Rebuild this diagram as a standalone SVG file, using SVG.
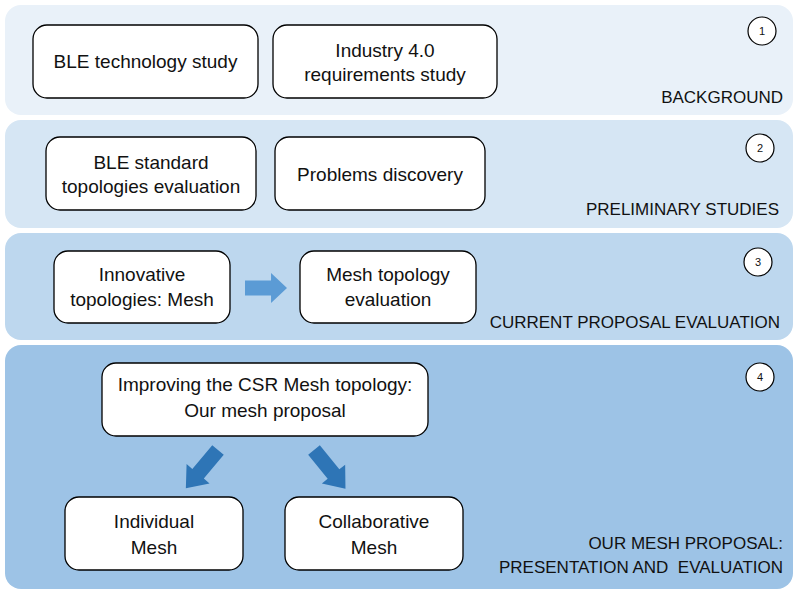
<svg xmlns="http://www.w3.org/2000/svg" width="799" height="594" viewBox="0 0 799 594">
<defs>
<style>
.node rect{fill:#fff;stroke:#000;stroke-width:1.3}
.t{font-family:"Liberation Sans",Arial,sans-serif;font-size:19px;fill:#111;text-anchor:middle}
.lbl{font-family:"Liberation Sans",Arial,sans-serif;font-size:17px;fill:#111;text-anchor:end}
.num circle{fill:#fff;stroke:#000;stroke-width:1.2}
.num text{font-family:"Liberation Sans",Arial,sans-serif;font-size:11px;fill:#111;text-anchor:middle}
</style>
<path id="arr" d="M0,-7.5 L31,-7.5 L31,-15 L50,0 L31,15 L31,7.5 L0,7.5 Z"/>
</defs>
<rect width="799" height="594" fill="#fff"/>
<g id="bands">
<rect x="5" y="5" width="788" height="110" rx="16" fill="#E9F1F9"/>
<rect x="5" y="120" width="788" height="108" rx="16" fill="#D6E6F4"/>
<rect x="5" y="233" width="788" height="107" rx="16" fill="#BDD7EE"/>
<rect x="5" y="345" width="788" height="244" rx="16" fill="#9DC3E6"/>
</g>
<g id="labels">
<text class="lbl" x="783" y="103">BACKGROUND</text>
<text class="lbl" x="779" y="215">PRELIMINARY STUDIES</text>
<text class="lbl" x="780" y="328">CURRENT PROPOSAL EVALUATION</text>
<text class="lbl" x="783" y="549">OUR MESH PROPOSAL:</text>
<text class="lbl" x="783" y="573" xml:space="preserve">PRESENTATION AND  EVALUATION</text>
</g>
<g id="n1" class="num"><circle cx="762" cy="31" r="14"/><text x="762" y="35">1</text></g>
<g id="n2" class="num"><circle cx="760" cy="148" r="14"/><text x="760" y="152">2</text></g>
<g id="n3" class="num"><circle cx="758" cy="262" r="14"/><text x="758" y="266">3</text></g>
<g id="n4" class="num"><circle cx="760" cy="377" r="14"/><text x="760" y="381">4</text></g>
<g id="ble" class="node"><rect x="33" y="25" width="225" height="73" rx="14"/><text class="t" x="145.5" y="68">BLE technology study</text></g>
<g id="industry" class="node"><rect x="273" y="25" width="224" height="73" rx="14"/><text class="t" x="385" y="57">Industry 4.0</text><text class="t" x="385" y="81">requirements study</text></g>
<g id="standard" class="node"><rect x="46" y="137" width="210" height="73" rx="14"/><text class="t" x="151" y="169">BLE standard</text><text class="t" x="151" y="193">topologies evaluation</text></g>
<g id="problems" class="node"><rect x="275" y="137" width="210" height="73" rx="14"/><text class="t" x="380" y="181">Problems discovery</text></g>
<g id="innovative" class="node"><rect x="54" y="251" width="176" height="72" rx="14"/><text class="t" x="142" y="281">Innovative</text><text class="t" x="142" y="306">topologies: Mesh</text></g>
<g id="meshEval" class="node"><rect x="300" y="251" width="176" height="72" rx="14"/><text class="t" x="388" y="281">Mesh topology</text><text class="t" x="388" y="306">evaluation</text></g>
<g id="improving" class="node"><rect x="102" y="363" width="326" height="73" rx="14"/><text class="t" x="265" y="391">Improving the CSR Mesh topology:</text><text class="t" x="265" y="417">Our mesh proposal</text></g>
<g id="individual" class="node"><rect x="65" y="497" width="178" height="73" rx="14"/><text class="t" x="154" y="528">Individual</text><text class="t" x="154" y="554">Mesh</text></g>
<g id="collab" class="node"><rect x="285" y="497" width="178" height="73" rx="14"/><text class="t" x="374" y="528">Collaborative</text><text class="t" x="374" y="554">Mesh</text></g>
<g id="connectors">
<use href="#arr" transform="translate(245,288) scale(0.84,1)" fill="#5B9BD5"/>
<use href="#arr" transform="translate(218,450) rotate(130)" fill="#2E75B6"/>
<use href="#arr" transform="translate(314,450) rotate(51)" fill="#2E75B6"/>
</g>
</svg>
